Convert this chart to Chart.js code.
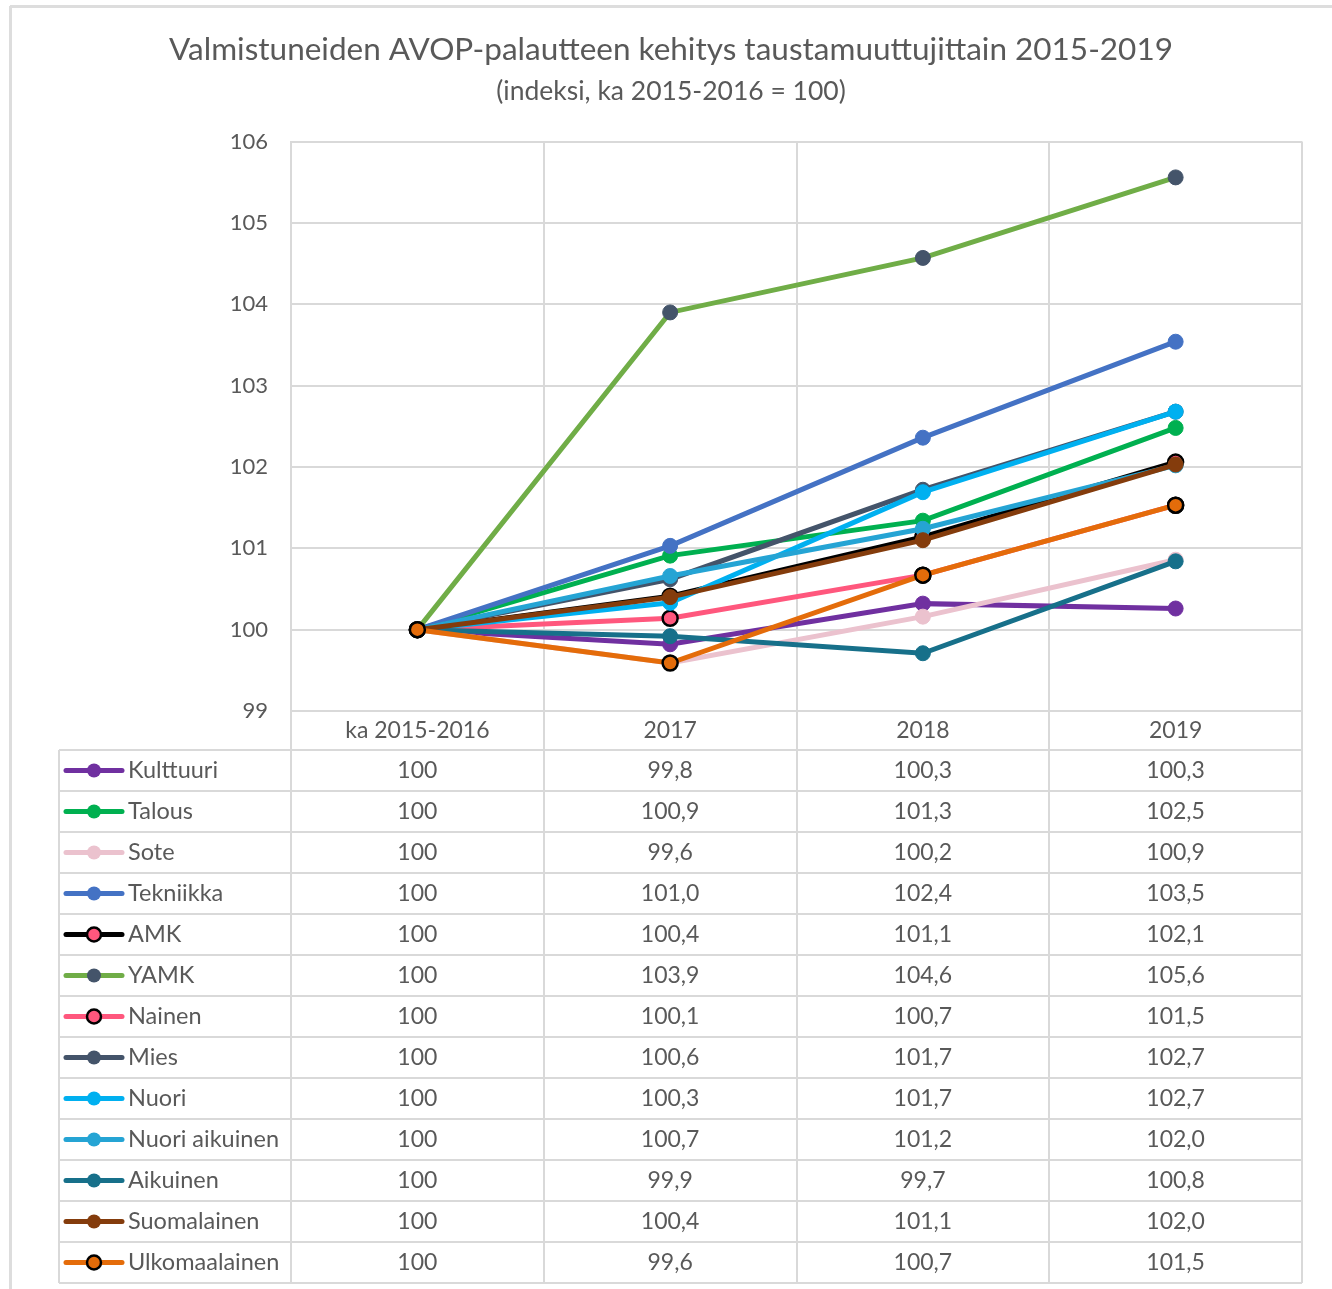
<!DOCTYPE html>
<html>
<head>
<meta charset="utf-8">
<script src="https://cdn.jsdelivr.net/npm/chart.js@4.4.1/dist/chart.umd.min.js"></script>
<style>
  body { margin: 0; background: #fff; }
</style>
</head>
<body>
<canvas id="chart" width="1332" height="1289"></canvas>
<script>
// categories and tick labels
const categories = ['ka 2015-2016', '2017', '2018', '2019'];
const yTicks = [99, 100, 101, 102, 103, 104, 105, 106];

// series values (index, ka 2015-2016 = 100)
const kulttuuri     = [100,  99.82, 100.32, 100.26];
const talous        = [100, 100.91, 101.34, 102.48];
const sote          = [100,  99.59, 100.16, 100.86];
const tekniikka     = [100, 101.03, 102.36, 103.54];
const amk           = [100, 100.41, 101.14, 102.06];
const yamk          = [100, 103.90, 104.57, 105.56];
const nainen        = [100, 100.14, 100.67, 101.53];
const mies          = [100, 100.62, 101.72, 102.68];
const nuori         = [100, 100.33, 101.69, 102.68];
const nuoriAikuinen = [100, 100.66, 101.24, 102.02];
const aikuinen      = [100,  99.92,  99.71, 100.84];
const suomalainen   = [100, 100.40, 101.10, 102.03];
const ulkomaalainen = [100,  99.59, 100.67, 101.53];

const seriesNames = ['Kulttuuri', 'Talous', 'Sote', 'Tekniikka', 'AMK', 'YAMK', 'Nainen',
  'Mies', 'Nuori', 'Nuori aikuinen', 'Aikuinen', 'Suomalainen', 'Ulkomaalainen'];
const seriesValues = [kulttuuri, talous, sote, tekniikka, amk, yamk, nainen,
  mies, nuori, nuoriAikuinen, aikuinen, suomalainen, ulkomaalainen];

// styles
const lineColors   = ['#7030A0', '#00B050', '#EBC2CE', '#4472C4', '#000000', '#70AD47', '#FF577D',
  '#44546A', '#00B0F0', '#25A4D4', '#17708A', '#843C0C', '#E46C0A'];
const markerFill   = ['#7030A0', '#00B050', '#EBC2CE', '#4472C4', '#FF577D', '#44546A', '#FF577D',
  '#44546A', '#00B0F0', '#25A4D4', '#17708A', '#843C0C', '#E46C0A'];
const markerBorder = ['#7030A0', '#00B050', '#EBC2CE', '#4472C4', '#000000', '#44546A', '#000000',
  '#44546A', '#00B0F0', '#25A4D4', '#17708A', '#843C0C', '#000000'];

const FONT = 'Lato';
const TEXT = '#595959';
const GRID = '#D9D9D9';
const ROW_H = 41;

function fmt(v, i) {
  return i === 0 ? String(Math.round(v)) : v.toFixed(1).replace('.', ',');
}

const n = seriesNames.length;
const datasets = seriesNames.map((name, i) => ({
  label: name,
  data: seriesValues[i],
  borderColor: lineColors[i],
  borderWidth: 5,
  pointRadius: 7.5,
  pointBackgroundColor: markerFill[i],
  pointBorderColor: markerBorder[i],
  pointBorderWidth: markerBorder[i] === '#000000' ? 2.5 : 1,
  tension: 0,
  fill: false,
  order: n - i
}));

// frame + data table under the plot
const tablePlugin = {
  id: 'dataTable',
  beforeDraw(chart) {
    const c = chart.ctx;
    c.save();
    c.strokeStyle = '#DDDDDD';
    c.lineWidth = 3;
    c.beginPath();
    c.moveTo(10, 6.5); c.lineTo(1332, 6.5);
    c.moveTo(10.5, 6); c.lineTo(10.5, 1289);
    c.stroke();
    c.restore();
  },
  afterDraw(chart) {
    const c = chart.ctx;
    const xs = chart.scales.x;
    const area = chart.chartArea;
    const colW = (xs.right - xs.left) / categories.length;
    const labelTop = area.bottom;
    const tableTop = area.bottom + 39;
    const tableBottom = tableTop + ROW_H * n;
    const tableLeft = 59;

    c.save();
    c.strokeStyle = GRID;
    c.lineWidth = 2;
    c.beginPath();
    for (let k = 0; k <= categories.length; k++) {
      const x = Math.round(xs.left + k * colW);
      c.moveTo(x, labelTop); c.lineTo(x, tableBottom);
    }
    c.moveTo(tableLeft, tableTop); c.lineTo(tableLeft, tableBottom);
    for (let r = 0; r <= n; r++) {
      const y = tableTop + r * ROW_H;
      c.moveTo(tableLeft, y); c.lineTo(xs.right, y);
    }
    c.stroke();

    c.fillStyle = TEXT;
    c.font = '23px ' + FONT;
    c.textAlign = 'center';
    c.textBaseline = 'middle';
    categories.forEach((cat, j) => {
      c.fillText(cat, xs.getPixelForValue(j), labelTop + 20);
    });

    seriesNames.forEach((name, i) => {
      const cy = tableTop + i * ROW_H + ROW_H / 2;
      // legend key
      c.strokeStyle = lineColors[i];
      c.lineWidth = 5;
      c.lineCap = 'round';
      c.beginPath();
      c.moveTo(66, cy); c.lineTo(122, cy);
      c.stroke();
      c.beginPath();
      c.arc(94, cy, 7, 0, Math.PI * 2);
      c.fillStyle = markerFill[i];
      c.fill();
      if (markerBorder[i] === '#000000') {
        c.strokeStyle = '#000000';
        c.lineWidth = 2.5;
        c.stroke();
      }
      c.fillStyle = TEXT;
      c.textAlign = 'left';
      c.font = '23.5px ' + FONT;
      c.fillText(name, 128, cy);
      c.textAlign = 'center';
      c.font = '23px ' + FONT;
      seriesValues[i].forEach((v, j) => {
        c.fillText(fmt(v, j), xs.getPixelForValue(j), cy);
      });
    });
    c.restore();
  }
};

new Chart(document.getElementById('chart'), {
  type: 'line',
  data: { labels: categories, datasets: datasets },
  options: {
    responsive: false,
    animation: false,
    devicePixelRatio: 1,
    layout: { padding: { left: 40, right: 30, top: 0, bottom: 578 } },
    plugins: {
      legend: { display: false },
      tooltip: { enabled: false },
      title: {
        display: true,
        text: 'Valmistuneiden AVOP-palautteen kehitys taustamuuttujittain 2015-2019',
        color: TEXT,
        font: { family: FONT, size: 31.5, weight: 'normal' },
        padding: { top: 31, bottom: 7 }
      },
      subtitle: {
        display: true,
        text: '(indeksi, ka 2015-2016 = 100)',
        color: TEXT,
        font: { family: FONT, size: 26.5, weight: 'normal' },
        padding: { top: 0, bottom: 34 }
      }
    },
    scales: {
      x: {
        type: 'category',
        offset: true,
        ticks: { display: false },
        grid: { color: GRID, lineWidth: 2, drawTicks: false, offset: true },
        border: { display: true, color: GRID, width: 2 }
      },
      y: {
        min: 99,
        max: 106,
        afterBuildTicks(scale) { scale.ticks = yTicks.map(v => ({ value: v })); },
        afterFit(scale) { scale.width = 251; },
        ticks: { color: TEXT, font: { family: FONT, size: 22 }, padding: 23 },
        grid: { color: GRID, lineWidth: 2, drawTicks: false },
        border: { display: true, color: GRID, width: 2 }
      }
    }
  },
  plugins: [tablePlugin]
});
</script>
</body>
</html>
